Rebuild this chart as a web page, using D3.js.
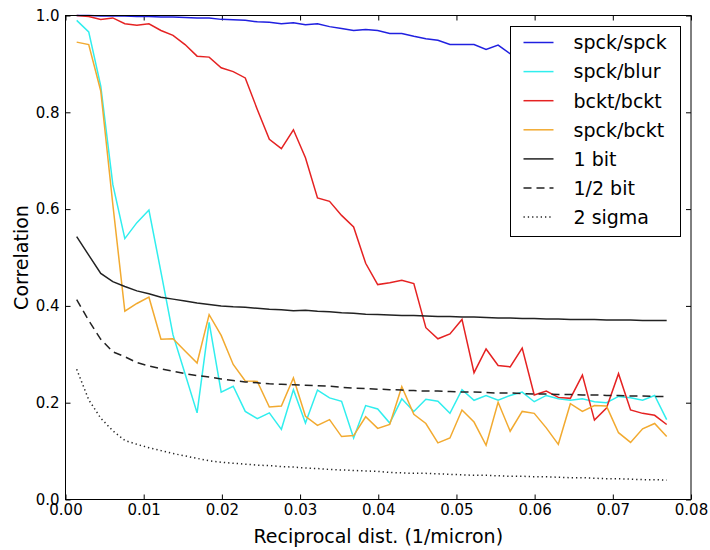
<!DOCTYPE html>
<html>
<head>
<meta charset="utf-8">
<script src="https://cdn.jsdelivr.net/npm/d3@7"></script>
<style>
  body { margin: 0; background: #fff; }
  text { font-family: "DejaVu Sans", sans-serif; fill: #000; }
</style>
</head>
<body>
<div id="my_dataviz"></div>
<script>
// reciprocal distance (1/micron)
var freq = [0.00143, 0.00297, 0.00451, 0.00605, 0.00759, 0.00913, 0.01067, 0.01221, 0.01375, 0.01529,
            0.01683, 0.01837, 0.01991, 0.02145, 0.02299, 0.02453, 0.02607, 0.02761, 0.02915, 0.03069,
            0.03223, 0.03377, 0.03531, 0.03685, 0.03839, 0.03993, 0.04147, 0.04301, 0.04455, 0.04609,
            0.04763, 0.04917, 0.05071, 0.05225, 0.05379, 0.05533, 0.05687, 0.05841, 0.05995, 0.06149,
            0.06303, 0.06457, 0.06611, 0.06765, 0.06919, 0.07073, 0.07227, 0.07381, 0.07535, 0.07689];

var spckSpck = [1.0, 1.0, 0.999, 0.999, 0.999, 0.998, 0.998, 0.997, 0.997, 0.996,
                0.995, 0.995, 0.992, 0.991, 0.990, 0.987, 0.986, 0.983, 0.985, 0.981,
                0.983, 0.977, 0.973, 0.969, 0.971, 0.969, 0.963, 0.963, 0.957, 0.952,
                0.949, 0.940, 0.940, 0.940, 0.930, 0.939, 0.921, 0.925, 0.918, 0.915,
                0.912, 0.915, 0.905, 0.908, 0.900, 0.903, 0.895, 0.898, 0.890, 0.885];

var spckBlur = [0.990, 0.966, 0.854, 0.651, 0.539, 0.572, 0.598, 0.470, 0.340, 0.260,
                0.179, 0.366, 0.222, 0.234, 0.182, 0.167, 0.179, 0.145, 0.227, 0.158,
                0.226, 0.210, 0.203, 0.127, 0.194, 0.187, 0.158, 0.208, 0.182, 0.207,
                0.203, 0.178, 0.227, 0.205, 0.215, 0.205, 0.215, 0.222, 0.202, 0.215,
                0.208, 0.205, 0.208, 0.202, 0.200, 0.213, 0.210, 0.205, 0.215, 0.165];

var bcktBckt = [1.0, 0.998, 0.992, 0.995, 0.983, 0.980, 0.983, 0.969, 0.959, 0.940,
                0.916, 0.914, 0.892, 0.884, 0.871, 0.806, 0.744, 0.725, 0.764, 0.706,
                0.623, 0.616, 0.587, 0.563, 0.488, 0.444, 0.448, 0.453, 0.446, 0.355,
                0.332, 0.342, 0.372, 0.262, 0.311, 0.277, 0.274, 0.313, 0.216, 0.224,
                0.211, 0.209, 0.257, 0.164, 0.189, 0.260, 0.185, 0.178, 0.174, 0.155];

var spckBckt = [0.945, 0.940, 0.844, 0.610, 0.389, 0.405, 0.418, 0.331, 0.332, 0.307,
                0.282, 0.382, 0.339, 0.279, 0.245, 0.244, 0.191, 0.193, 0.251, 0.172,
                0.153, 0.165, 0.130, 0.132, 0.171, 0.147, 0.155, 0.233, 0.176, 0.157,
                0.117, 0.127, 0.185, 0.160, 0.112, 0.201, 0.141, 0.182, 0.178, 0.148,
                0.114, 0.198, 0.182, 0.194, 0.193, 0.138, 0.118, 0.146, 0.157, 0.130];

var oneBit = [0.543, 0.505, 0.467, 0.450, 0.440, 0.431, 0.425, 0.418, 0.414, 0.410,
              0.406, 0.403, 0.400, 0.398, 0.397, 0.395, 0.393, 0.392, 0.390, 0.391,
              0.389, 0.388, 0.386, 0.385, 0.383, 0.382, 0.381, 0.380, 0.380, 0.379,
              0.378, 0.378, 0.377, 0.377, 0.376, 0.375, 0.375, 0.374, 0.374, 0.373,
              0.373, 0.372, 0.372, 0.372, 0.371, 0.371, 0.371, 0.370, 0.370, 0.370];

var halfBit = [0.413, 0.370, 0.331, 0.305, 0.295, 0.283, 0.276, 0.270, 0.265, 0.260,
               0.256, 0.253, 0.249, 0.246, 0.243, 0.241, 0.239, 0.238, 0.237, 0.236,
               0.235, 0.234, 0.232, 0.230, 0.229, 0.228, 0.227, 0.226, 0.225, 0.224,
               0.224, 0.223, 0.222, 0.222, 0.221, 0.220, 0.220, 0.219, 0.218, 0.218,
               0.217, 0.217, 0.216, 0.216, 0.215, 0.215, 0.214, 0.214, 0.213, 0.213];

var twoSigma = [0.269, 0.206, 0.168, 0.142, 0.122, 0.114, 0.107, 0.101, 0.095, 0.090,
                0.085, 0.080, 0.077, 0.075, 0.073, 0.071, 0.070, 0.068, 0.067, 0.065,
                0.064, 0.062, 0.061, 0.060, 0.059, 0.058, 0.056, 0.055, 0.054, 0.054,
                0.053, 0.052, 0.051, 0.050, 0.050, 0.049, 0.048, 0.048, 0.047, 0.047,
                0.046, 0.045, 0.045, 0.044, 0.043, 0.043, 0.042, 0.041, 0.041, 0.040];

var xTicks = [0, 0.01, 0.02, 0.03, 0.04, 0.05, 0.06, 0.07, 0.08];
var yTicks = [0, 0.2, 0.4, 0.6, 0.8, 1.0];

var series = [
  { name: "spck/spck", values: spckSpck, color: "#2020e0", dash: null },
  { name: "spck/blur", values: spckBlur, color: "#30eeee", dash: null },
  { name: "bckt/bckt", values: bcktBckt, color: "#e52222", dash: null },
  { name: "spck/bckt", values: spckBckt, color: "#f2aa30", dash: null },
  { name: "1 bit", values: oneBit, color: "#222", dash: null },
  { name: "1/2 bit", values: halfBit, color: "#222", dash: "8,5" },
  { name: "2 sigma", values: twoSigma, color: "#222", dash: "1.3,3" }
];

var margin = { top: 15.5, right: 19, bottom: 50.5, left: 65.5 },
  width = 710 - margin.left - margin.right,
  height = 550 - margin.top - margin.bottom;

var svg = d3.select("#my_dataviz")
  .append("svg")
  .attr("width", 710)
  .attr("height", 550)
  .append("g")
  .attr("transform", "translate(" + margin.left + "," + margin.top + ")");

var x = d3.scaleLinear().domain([0, 0.08]).range([0, width]);
var y = d3.scaleLinear().domain([0, 1]).range([height, 0]);

// ticks point inward on all four sides
function styleAxis(g) {
  g.select(".domain").remove();
  g.selectAll(".tick line").attr("stroke", "#000");
  g.selectAll(".tick text").style("font-size", "15px").attr("fill", "#000");
}

svg.append("g")
  .attr("transform", "translate(0," + height + ")")
  .call(d3.axisBottom(x).tickValues(xTicks).tickSize(-5).tickPadding(5).tickFormat(d3.format(".2f")))
  .call(styleAxis);

svg.append("g")
  .call(d3.axisTop(x).tickValues(xTicks).tickSize(-5).tickFormat(""))
  .call(styleAxis);

svg.append("g")
  .call(d3.axisLeft(y).tickValues(yTicks).tickSize(-5).tickPadding(6).tickFormat(d3.format(".1f")))
  .call(styleAxis);

svg.append("g")
  .attr("transform", "translate(" + width + ",0)")
  .call(d3.axisRight(y).tickValues(yTicks).tickSize(-5).tickFormat(""))
  .call(styleAxis);

var line = d3.line()
  .x(function (d, i) { return x(freq[i]); })
  .y(function (d) { return y(d); });

series.forEach(function (s) {
  svg.append("path")
    .datum(s.values)
    .attr("fill", "none")
    .attr("stroke", s.color)
    .attr("stroke-width", 1.5)
    .attr("stroke-dasharray", s.dash)
    .attr("d", line);
});

// frame
svg.append("rect")
  .attr("width", width)
  .attr("height", height)
  .attr("fill", "none")
  .attr("stroke", "#000")
  .attr("stroke-width", 1);

// text label for the x axis
svg.append("text")
  .attr("x", width / 2)
  .attr("y", height + 43)
  .style("text-anchor", "middle")
  .style("font-size", "19px")
  .text("Reciprocal dist. (1/micron)");

// text label for the y axis
svg.append("text")
  .attr("transform", "rotate(-90)")
  .attr("x", -height / 2)
  .attr("y", -38)
  .style("text-anchor", "middle")
  .style("font-size", "19px")
  .text("Correlation");

// legend
var legend = svg.append("g")
  .attr("transform", "translate(" + (510.5 - margin.left) + "," + (26.5 - margin.top) + ")");

legend.append("rect")
  .attr("width", 170)
  .attr("height", 210)
  .attr("fill", "#fff")
  .attr("stroke", "#000");

series.forEach(function (s, i) {
  var yy = 16 + i * 29.1;
  legend.append("line")
    .attr("x1", 13).attr("x2", 43)
    .attr("y1", yy).attr("y2", yy)
    .attr("stroke", s.color)
    .attr("stroke-width", 1.5)
    .attr("stroke-dasharray", s.dash);
  legend.append("text")
    .attr("x", 63)
    .attr("y", yy)
    .attr("dy", "0.36em")
    .style("font-size", "19px")
    .text(s.name);
});
</script>
</body>
</html>
